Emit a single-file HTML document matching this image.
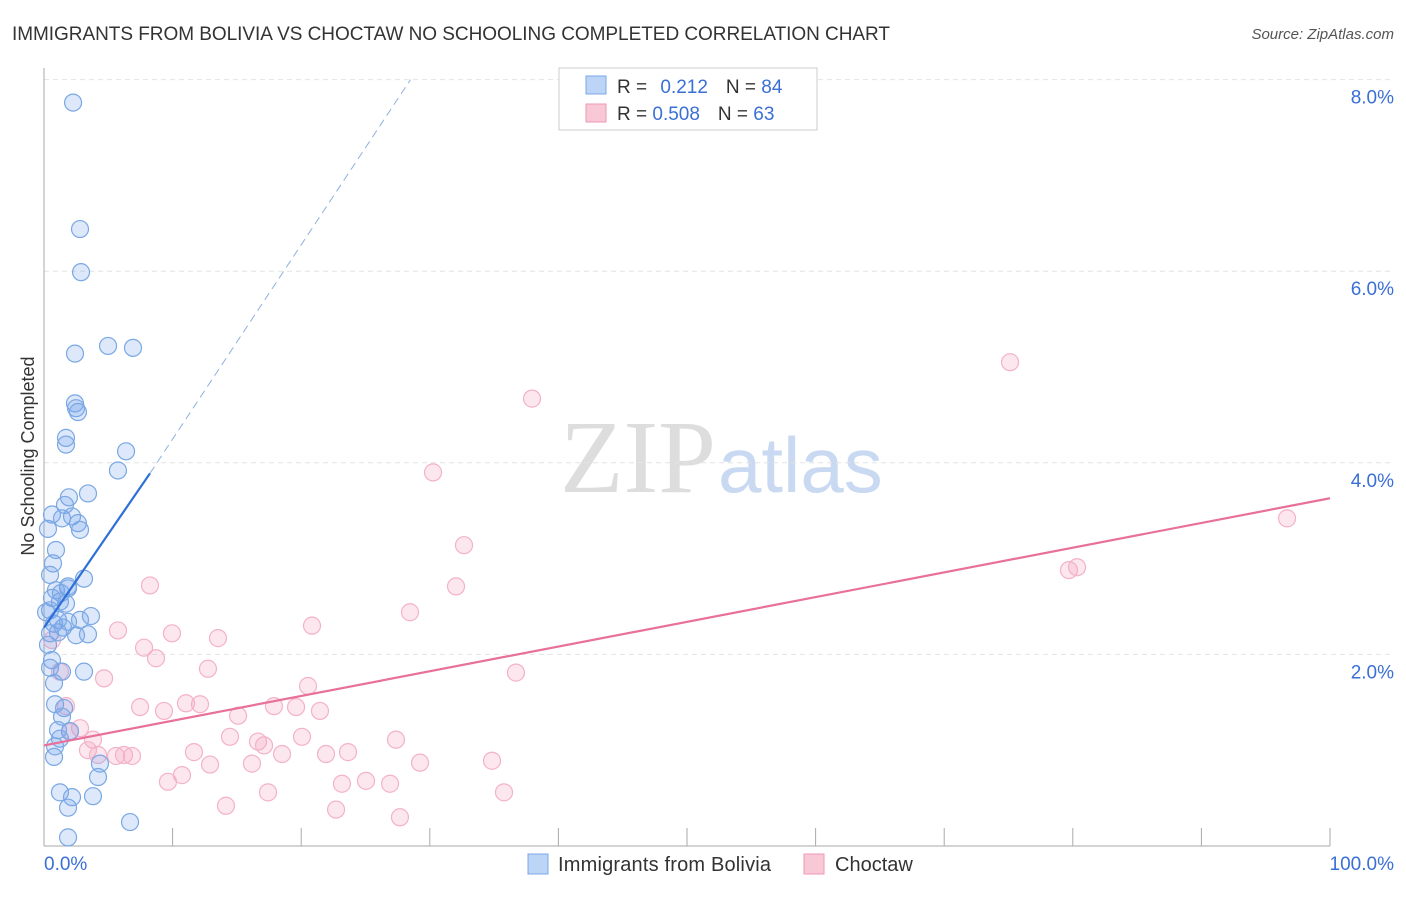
<!DOCTYPE html>
<html><head><meta charset="utf-8"><style>
body{margin:0;background:#fff;font-family:"Liberation Sans",sans-serif;}
</style></head><body>
<svg id="c" width="1406" height="892" xmlns="http://www.w3.org/2000/svg">
<text x="12" y="40" font-size="19" fill="#333" textLength="878">IMMIGRANTS FROM BOLIVIA VS CHOCTAW NO SCHOOLING COMPLETED CORRELATION CHART</text>
<text x="1394" y="39" font-size="15" fill="#555" font-style="italic" text-anchor="end">Source: ZipAtlas.com</text>
<text x="34" y="456" font-size="18" fill="#333" text-anchor="middle" transform="rotate(-90 34 456)">No Schooling Completed</text>
<text x="716" y="492" font-size="104" fill="#ddd" text-anchor="end" font-family="Liberation Serif,serif">ZIP</text>
<text x="718" y="492" font-size="78" fill="#c9d9f1">atlas</text>
<g id="grid"></g><g id="pts"></g><g id="lines"></g>
<g>
<rect x="559" y="68" width="258" height="62" fill="#fff" stroke="#ccc"/>
<rect x="586" y="76" width="20" height="18" fill="#bcd4f6" stroke="#7aa7e6"/>
<rect x="586" y="104" width="20" height="18" fill="#f9c8d6" stroke="#ee9ab4"/>
<text x="617" y="93" font-size="19" fill="#333">R = <tspan fill="#3a6fd6" dx="8">0.212</tspan><tspan dx="18" fill="#333">N = </tspan><tspan fill="#3a6fd6">84</tspan></text>
<text x="617" y="120" font-size="19" fill="#333">R = <tspan fill="#3a6fd6">0.508</tspan><tspan dx="18" fill="#333">N = </tspan><tspan fill="#3a6fd6">63</tspan></text>
</g>
<g>
<rect x="528" y="854" width="20" height="20" fill="#bcd4f6" stroke="#7aa7e6"/>
<text x="558" y="871" font-size="20" fill="#333" textLength="213">Immigrants from Bolivia</text>
<rect x="804" y="854" width="20" height="20" fill="#f9c8d6" stroke="#ee9ab4"/>
<text x="835" y="871" font-size="20" fill="#333">Choctaw</text>
</g>
<text x="44" y="870" font-size="19" fill="#3a6fd6">0.0%</text>
<text x="1394" y="870" font-size="19" fill="#3a6fd6" text-anchor="end">100.0%</text>
</svg>
<script>
const yTicks=[2,4,6,8];
const yTickLabels=["2.0%","4.0%","6.0%","8.0%"];
const xTicks=[0,10,20,30,40,50,60,70,80,90,100];
const blueX=[2.26,2.80,2.88,2.41,4.98,6.92,2.41,2.49,2.64,1.71,1.71,6.38,5.75,3.42,1.94,1.63,0.62,1.40,2.18,2.64,2.80,0.31,0.93,0.70,0.47,3.11,1.87,0.93,1.32,1.87,0.62,1.24,1.71,3.65,2.80,1.87,0.78,1.48,3.42,2.49,1.09,0.47,0.31,0.62,0.47,3.11,1.40,0.78,0.86,1.56,1.40,2.02,1.09,1.24,0.86,0.78,4.35,4.20,1.24,2.18,3.81,1.87,6.69,1.87,0.47,0.16,1.09];
const blueY=[7.76,6.44,5.99,5.14,5.22,5.20,4.62,4.57,4.53,4.26,4.19,4.12,3.92,3.68,3.64,3.56,3.46,3.42,3.44,3.37,3.30,3.31,3.09,2.95,2.83,2.79,2.71,2.67,2.64,2.69,2.59,2.55,2.53,2.40,2.36,2.34,2.32,2.28,2.21,2.20,2.23,2.22,2.10,1.94,1.86,1.82,1.82,1.70,1.48,1.44,1.35,1.20,1.21,1.12,1.04,0.93,0.86,0.72,0.56,0.51,0.52,0.40,0.25,0.09,2.46,2.44,2.36];
const pinkX=[75.12,37.95,30.25,96.66,32.66,79.7,80.33,8.24,32.04,28.46,20.84,9.95,5.75,13.53,7.78,8.71,12.75,36.70,4.67,1.24,0.62,1.71,7.47,9.33,11.04,12.13,15.09,17.88,19.60,21.46,20.53,2.80,3.81,14.46,16.64,17.11,20.06,27.37,3.42,4.20,5.60,6.22,6.84,11.66,18.51,21.93,23.64,12.91,16.17,29.24,34.84,10.73,9.64,23.17,25.04,26.91,17.42,14.15,22.71,35.77,27.68,2.02];
const pinkY=[5.05,4.67,3.90,3.42,3.14,2.88,2.91,2.72,2.71,2.44,2.30,2.22,2.25,2.17,2.07,1.96,1.85,1.81,1.75,1.82,2.15,1.46,1.45,1.41,1.49,1.48,1.36,1.46,1.45,1.41,1.67,1.23,1.11,1.14,1.09,1.05,1.14,1.11,1.00,0.95,0.94,0.95,0.94,0.98,0.96,0.96,0.98,0.85,0.86,0.87,0.89,0.74,0.67,0.65,0.68,0.65,0.56,0.42,0.38,0.56,0.30,1.19];
const blueTrendX=[0,8.24,28.5];
const blueTrendY=[2.28,3.89,8.0];
const pinkTrendX=[0,100];
const pinkTrendY=[1.05,3.63];
const NS="http://www.w3.org/2000/svg";
const sx=v=>44+v*12.86, sy=v=>846-v*95.8;
function mk(t,a,p){const e=document.createElementNS(NS,t);for(const k in a)e.setAttribute(k,a[k]);p.appendChild(e);return e;}
const g=document.getElementById('grid');
yTicks.forEach((t,i)=>{
 const l=mk('line',{x1:44,x2:1394,y1:sy(t),y2:sy(t),stroke:'#e4e4e4','stroke-dasharray':'5,4'},g);
 
 
 const tx=mk('text',{x:1394,y:sy(t)+24,'font-size':19,fill:'#3a6fd6','text-anchor':'end'},g);
 tx.textContent=yTickLabels[i];
 
 
});
mk('line',{x1:44,x2:44,y1:68,y2:846,stroke:'#aaa'},g);
mk('line',{x1:44,x2:1330,y1:846,y2:846,stroke:'#aaa'},g);
xTicks.forEach(t=>{const l=mk('line',{x1:sx(t),x2:sx(t),y1:846,y2:828,stroke:'#aaa'},g);
 
 });
const p=document.getElementById('pts');
pinkX.forEach((x,i)=>{const c=mk('circle',{cx:sx(x),cy:sy(pinkY[i]),r:8.5,fill:'rgba(244,160,188,0.25)',stroke:'#f4b2c7','stroke-width':1.2},p);
 
 });
blueX.forEach((x,i)=>{const c=mk('circle',{cx:sx(x),cy:sy(blueY[i]),r:8.5,fill:'rgba(120,165,235,0.25)',stroke:'#7aa8e4','stroke-width':1.2},p);
 
 });
const L=document.getElementById('lines');
const b1=mk('line',{x1:sx(blueTrendX[0]),y1:sy(blueTrendY[0]),x2:sx(blueTrendX[1]),y2:sy(blueTrendY[1]),stroke:'#2f6fd8','stroke-width':2.2},L);


const b2=mk('line',{x1:sx(blueTrendX[1]),y1:sy(blueTrendY[1]),x2:sx(blueTrendX[2]),y2:sy(blueTrendY[2]),stroke:'#8fb0e0','stroke-width':1,'stroke-dasharray':'8,5'},L);


const pl=mk('line',{x1:sx(pinkTrendX[0]),y1:sy(pinkTrendY[0]),x2:sx(pinkTrendX[1]),y2:sy(pinkTrendY[1]),stroke:'#e8709a','stroke-width':2.2},L);


</script>
</body></html>
